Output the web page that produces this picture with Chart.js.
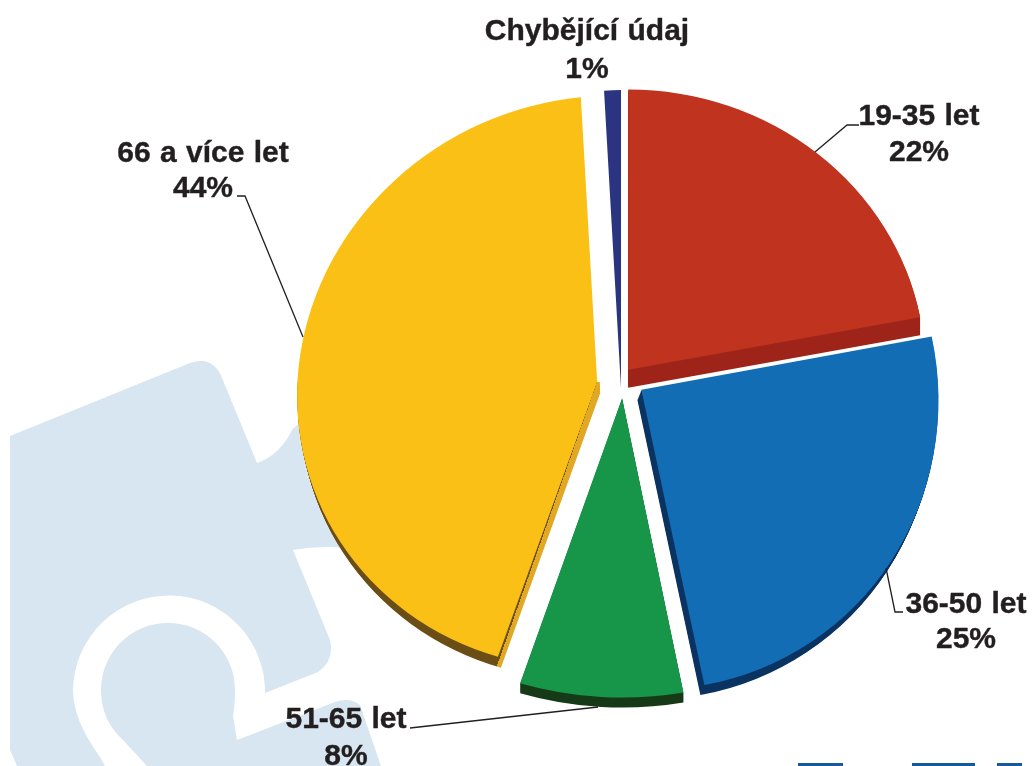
<!DOCTYPE html>
<html><head><meta charset="utf-8">
<style>
html,body{margin:0;padding:0;background:#fff;width:1032px;height:766px;overflow:hidden}
#wrap{position:relative;width:1032px;height:766px}
#wm,#c{position:absolute;left:0;top:0}
</style>
<script src="https://cdn.jsdelivr.net/npm/chart.js@4"></script>
</head><body>
<div id="wrap">
<svg id="wm" width="1032" height="766" viewBox="0 0 1032 766">
<g fill="#d7e6f0">
<path d="M10 436 L190 363 Q213 355 222 378 L257 463 Q280 455 292 430 Q300 420 330 410 L360 500 L345 548 Q320 545 293 550 L330 640 Q335 660 318 672 L265 693 A96 96 0 1 0 73 690 Q73 720 100 757 L105 766 L17 766 L10 750 Z"/>
<path d="M237 740 L335 702 Q350 697 360 705 L381 766 L147 766 L123 740 Q101 720 101 690 A67 67 0 1 1 235 690 Q235 705 233 716 Z"/>
</g>
<g fill="#165a9c"><rect x="798" y="763" width="45" height="3"/><rect x="912" y="763" width="63" height="3"/><rect x="997" y="763" width="25" height="3"/></g>
</svg>
<canvas id="c" width="1032" height="766"></canvas>
</div>
<script>
const categories = ['19-35 let','36-50 let','51-65 let','66 a více let','Chybějící údaj'];
const shares = [22,25,8,44,1];
const faceColors = ['#c0331f','#136db5','#17964a','#fac016','#2b3480'];
const rimColors = ['#9e2419','#0a3362','#163a17','#6b4e16','#2b3480'];
const sideColors = ['#9e2419','#0a3362','#163a17','#e0a823','#2b3480'];
const sliceOffsets = [64,84,56,92,0];
const sliceNudge = [[-2,-2],[4,-6],[3,0],[0,1],[1,4]];
// per-slice perspective warp: [x scale, y from x, x from y, y scale]
const sliceWarp = [[.99,0,0,.933],[.99,.01,.025,1],[1.087,0,0,.975],[.954,-.03,-.015,.91],[.9,0,0,.993]];
const sliceDepth = [[0,18],[-4,10],[0,10],[3,11],[0,0]];
const depthBelowApexOnly = [false,false,false,true,false];
const labelPos = [[919,125,161],[966,613,648],[346,728,765],[203,162,197],[587,40,78]];
const leaders = [
 [[859,125],[847,125],[815,152]],
 [[903,612],[895,612],[886,568]],
 [[410,728],[598,707]],
 [[237,196],[245,196],[303,337]]
];
const pie3d = {
 id:'pie3d',
 beforeDatasetDraw(chart){
  const ctx = chart.ctx, arcs = chart.getDatasetMeta(0).data;
  arcs.forEach((arc,i)=>{
   const o = arc.options;
   const mid = (arc.startAngle+arc.endAngle)/2, off = (o.offset||0)/4;
   const ax = arc.x+Math.cos(mid)*off+sliceNudge[i][0], ay = arc.y+Math.sin(mid)*off+sliceNudge[i][1];
   const w = sliceWarp[i], [dx,dy] = sliceDepth[i];
   const det = w[0]*w[3]-w[1]*w[2];
   const place = (k)=>{
    ctx.save();
    ctx.translate(ax+dx*k,ay+dy*k);
    ctx.transform(w[0],w[1],w[2],w[3],0,0);
    ctx.translate(-(arc.x+Math.cos(mid)*off),-(arc.y+Math.sin(mid)*off));
   };
   const steps = Math.ceil(Math.hypot(dx,dy));
   if(steps){
    const f = (arc.endAngle-arc.startAngle)/(2*Math.PI);
    ctx.save();
    if(depthBelowApexOnly[i]){ctx.beginPath();ctx.rect(0,ay,chart.width,chart.height);ctx.clip();}
    for(let s=steps;s>0;s--){
     const k=s/steps;
     // centre of the colour wedge sits on the top face's apex, seen from this layer
     const ux=(w[3]*(-dx*k)-w[2]*(-dy*k))/det, uy=(-w[1]*(-dx*k)+w[0]*(-dy*k))/det;
     const g = ctx.createConicGradient(arc.startAngle,arc.x+ux,arc.y+uy);
     g.addColorStop(0,rimColors[i]);g.addColorStop(f,rimColors[i]);
     g.addColorStop(f,sideColors[i]);g.addColorStop(1,sideColors[i]);
     arc.options = Object.assign(Object.create(o),{backgroundColor:g});
     place(k);arc.draw(ctx);ctx.restore();
    }
    arc.options = o;
    ctx.restore();
   }
   place(0);arc.draw(ctx);ctx.restore();
  });
  return false;
 },
 afterDraw(chart){
  const ctx = chart.ctx;
  ctx.save();
  ctx.strokeStyle='#231f20';ctx.lineWidth=1.3;
  leaders.forEach(l=>{ctx.beginPath();l.forEach((p,i)=>i?ctx.lineTo(p[0],p[1]):ctx.moveTo(p[0],p[1]));ctx.stroke();});
  ctx.fillStyle='#231f20';ctx.textAlign='center';ctx.textBaseline='alphabetic';
  ctx.lineWidth=0.4;ctx.lineJoin='round';
  ctx.font='bold 30px "Liberation Sans", Arial, sans-serif';
  ctx.wordSpacing='1px';
  const put=(t,x,y)=>{ctx.fillText(t,x,y);ctx.strokeText(t,x,y);};
  chart.data.labels.forEach((t,i)=>{
   const [x,y1,y2]=labelPos[i];
   put(t,x,y1);
   put(chart.data.datasets[0].data[i]+'%',x,y2);
  });
  ctx.restore();
 }
};
new Chart(document.getElementById('c'),{
 type:'pie',
 data:{labels:categories,datasets:[{data:shares,backgroundColor:faceColors,offset:sliceOffsets,borderWidth:0}]},
 options:{
  responsive:false,animation:false,radius:300,
  layout:{padding:{left:208,top:2,right:0,bottom:0}},
  plugins:{legend:{display:false},tooltip:{enabled:false},title:{display:false}},
  events:[]
 },
 plugins:[pie3d]
});
</script>
</body></html>
